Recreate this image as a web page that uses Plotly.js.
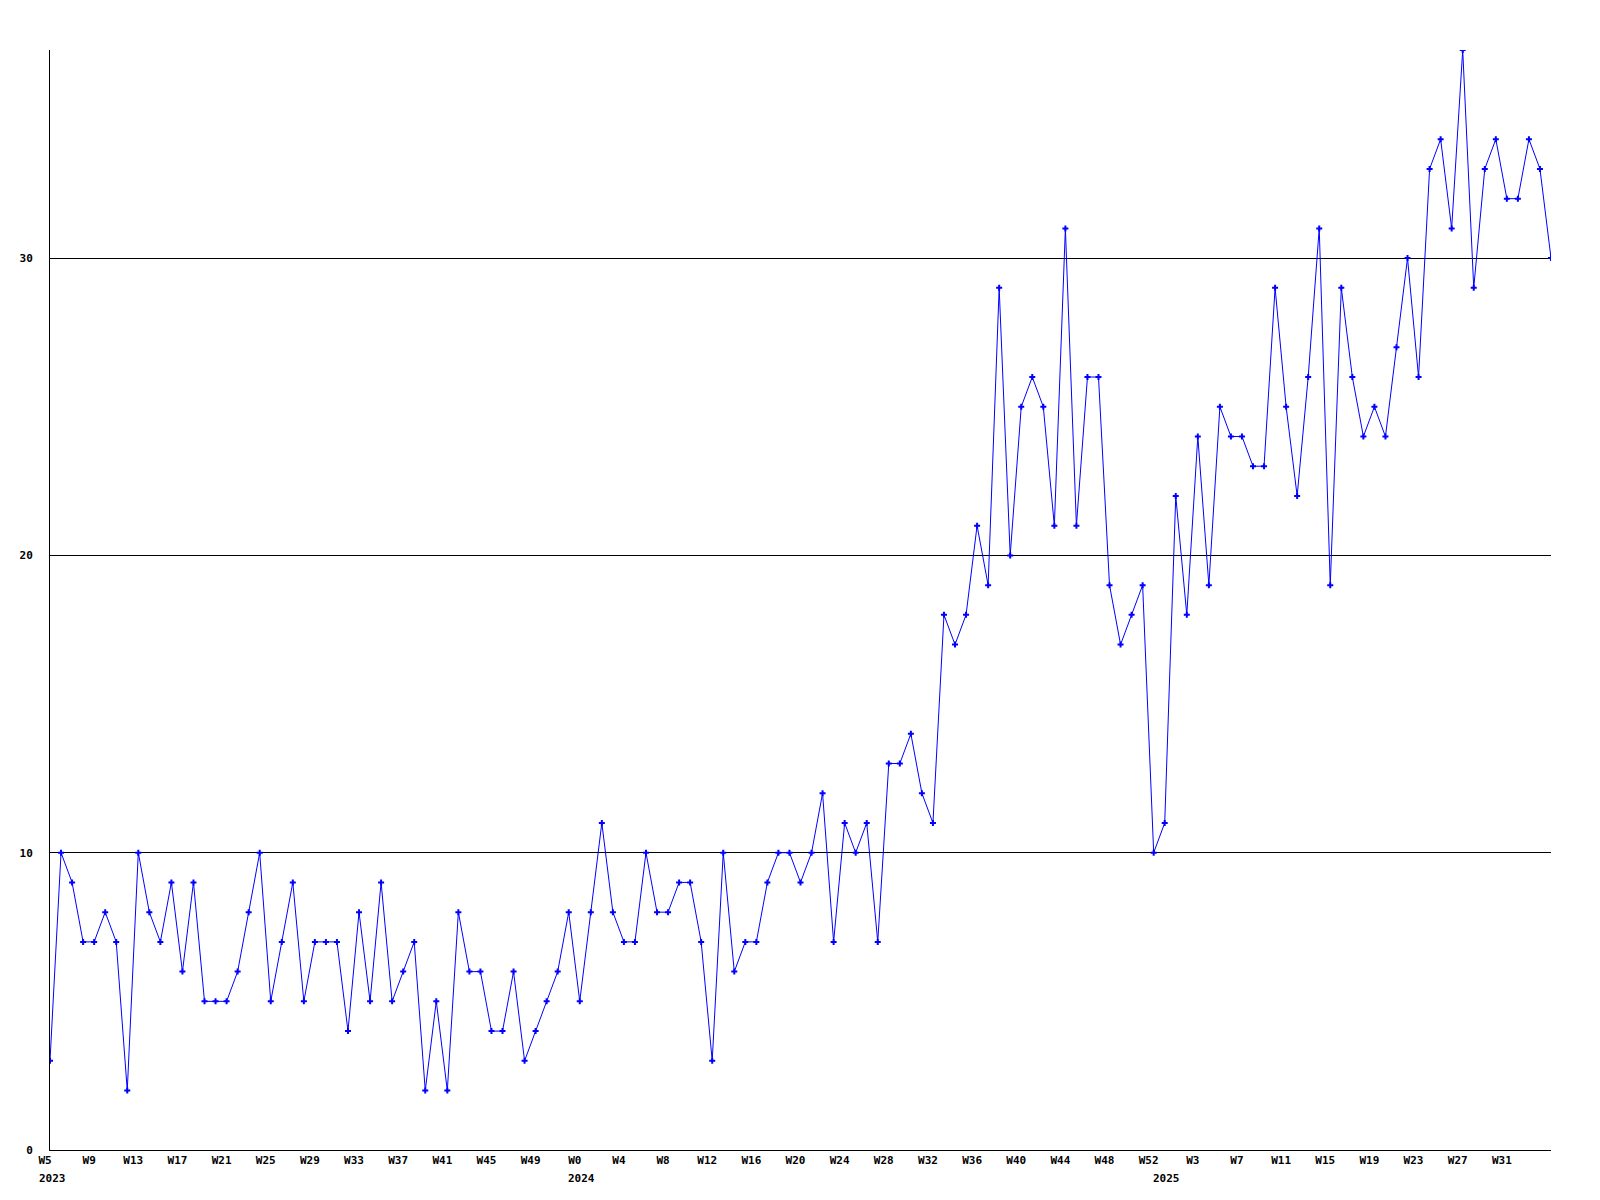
<!DOCTYPE html>
<html>
<head>
<meta charset="utf-8">
<script src="https://cdn.plot.ly/plotly-3.0.1.min.js"></script>
<style>html,body{margin:0;padding:0;background:#fff;}#chart{width:1600px;height:1200px;}</style>
</head>
<body>
<div id="chart"></div>
<script>
// weekly values, 2023 W5 .. 2025 W35 (137 weeks)
const values = [
  3,10,9,7,7,8,7,2,10,8,7,9,6,9,5,5,5,6,8,10,
  5,7,9,5,7,7,7,4,8,5,9,5,6,7,2,5,2,8,6,6,
  4,4,6,3,4,5,6,8,5,8,11,8,7,7,10,8,8,9,9,7,
  3,10,6,7,7,9,10,10,9,10,12,7,11,10,11,7,13,13,14,12,
  11,18,17,18,21,19,29,20,25,26,25,21,31,21,26,26,19,17,18,19,
  10,11,22,18,24,19,25,24,24,23,23,29,25,22,26,31,19,29,26,24,
  25,24,27,30,26,33,34,31,37,29,33,34,32,32,34,33,30
];
const tickIndex = [0,4,8,12,16,20,24,28,32,36,40,44,48,52,56,60,64,68,72,76,80,84,88,92,96,100,104,108,112,116,120,124,128,132];
const tickLabels = ["W5","W9","W13","W17","W21","W25","W29","W33","W37","W41","W45","W49",
  "W0","W4","W8","W12","W16","W20","W24","W28","W32","W36","W40","W44","W48","W52",
  "W3","W7","W11","W15","W19","W23","W27","W31"];
const yearIndex = [0,48,101];
const yearLabels = ["2023","2024","2025"];
const yTicks = [0,10,20,30];

const xIdx = values.map((v,i)=>i);
const font = {family:"DejaVu Sans Mono, monospace", size:11, color:"#000", weight:"bold"};

const trace = {
  x: xIdx, y: values, type:"scatter", mode:"lines+markers",
  line:{color:"#0000ff", width:1},
  marker:{symbol:"cross", size:5, color:"#0000ff", line:{width:0}},
  hoverinfo:"skip"
};

const annotations = yearLabels.map((t,k)=>({
  x: yearIndex[k], xref:"x", y:0, yref:"paper",
  text:"<b>"+t+"</b>", showarrow:false, xanchor:"center", yanchor:"top",
  xshift:2, yshift:-20, font:font
}));

const layout = {
  width:1600, height:1200,
  margin:{l:50, r:49, t:50, b:50, pad:0},
  paper_bgcolor:"#fff", plot_bgcolor:"#fff",
  showlegend:false,
  xaxis:{
    range:[0,136], tickmode:"array", tickvals:tickIndex,
    ticktext:tickLabels.map(s=>"<b>"+s+"</b>"),
    ticks:"", showgrid:false, zeroline:false,
    showline:true, linecolor:"#000", linewidth:1,
    ticklabelshift:-5, tickfont:font, fixedrange:true
  },
  yaxis:{
    range:[0,37], tickmode:"array", tickvals:yTicks,
    ticktext:yTicks.map(v=>"<b>"+v+"</b>"),
    ticks:"", showgrid:true, gridcolor:"#000", gridwidth:1,
    zeroline:false, showline:true, linecolor:"#000", linewidth:1,
    tickfont:font, ticklabelstandoff:14, fixedrange:true
  },
  annotations:annotations
};
Plotly.newPlot("chart",[trace],layout,{displayModeBar:false, staticPlot:true});
</script>
</body>
</html>
